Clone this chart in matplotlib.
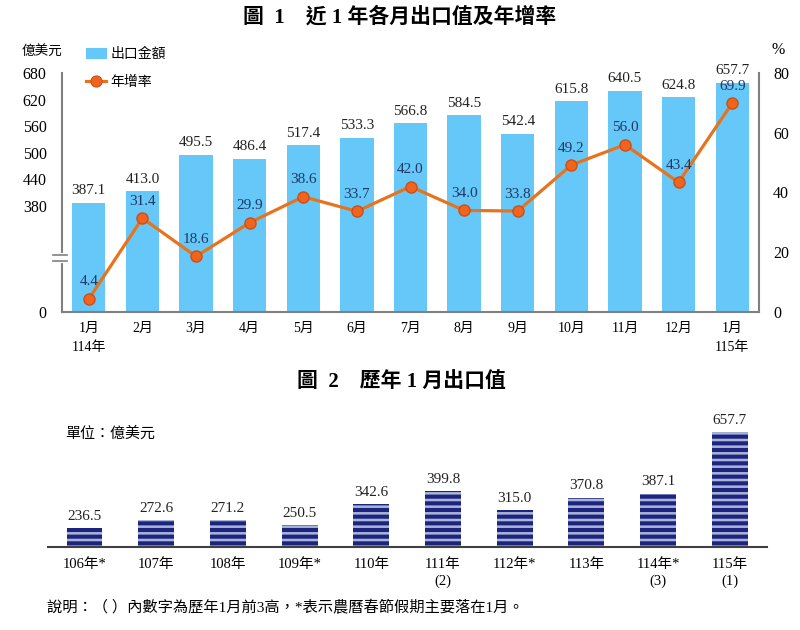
import numpy as np
import matplotlib.pyplot as plt
from matplotlib.lines import Line2D
from matplotlib.patches import Patch

# 以 dpi=80 輸出(條紋密度較接近原圖), 所有以點為單位的尺寸乘上 k
k = 100 / 80

plt.rcParams['font.family'] = ['Liberation Serif', 'Noto Sans CJK TC']
plt.rcParams['hatch.linewidth'] = 3.7

# 圖1 資料
months = ['1月\n114年', '2月', '3月', '4月', '5月', '6月', '7月', '8月', '9月',
          '10月', '11月', '12月', '1月\n115年']
export_val = [387.1, 413.0, 495.5, 486.4, 517.4, 533.3, 566.8, 584.5, 542.4,
              615.8, 640.5, 624.8, 657.7]
growth = [4.4, 31.4, 18.6, 29.9, 38.6, 33.7, 42.0, 34.0, 33.8, 49.2, 56.0, 43.4, 69.9]
left_ticks = [380, 440, 500, 560, 620, 680]
right_ticks = [0, 20, 40, 60, 80]

# 圖2 資料
years = ['106年*', '107年', '108年', '109年*', '110年', '111年\n(2)', '112年*',
         '113年', '114年*\n(3)', '115年\n(1)']
jan_val = [236.5, 272.6, 271.2, 250.5, 342.6, 399.8, 315.0, 370.8, 387.1, 657.7]

bar_blue = '#66C8F8'
line_org = '#E8731E'
navy = '#1C2480'
axis_gray = '#808080'

fig = plt.figure(figsize=(10, 7.875), dpi=80)

# ---------------- 圖 1 ----------------
ax1 = fig.add_axes([62/800, 1-312/630, 697/800, 239/630])
y0 = 141  # 斷軸後的底部
x = np.arange(len(months))
ax1.bar(x, np.array(export_val) - y0, bottom=y0, width=0.62, color=bar_blue, zorder=2)
ax1.set_xlim(-0.5, len(months) - 0.5)
ax1.set_ylim(y0, 680)
ax1.set_yticks([y0] + left_ticks)
ax1.set_yticklabels(['0'] + [str(t) for t in left_ticks])
ax1.set_xticks(x)
ax1.set_xticklabels(months, fontsize=10*k, linespacing=1.6)
ax1.tick_params(axis='y', length=0, labelsize=11.5*k, pad=11*k)
ax1.tick_params(axis='x', length=0, pad=7*k)
for s in ['top', 'right']:
    ax1.spines[s].set_visible(False)
for s in ['left', 'bottom']:
    ax1.spines[s].set_color(axis_gray)
    ax1.spines[s].set_linewidth(1.5*k)

for xi, v in zip(x, export_val):
    ax1.annotate(f'{v:.1f}', (xi, v), xytext=(0, 4*k), textcoords='offset points',
                 ha='center', va='bottom', fontsize=11*k, color='#222222')

ax2 = ax1.twinx()
ax2.plot(x, growth, color=line_org, lw=2.3*k, marker='o', ms=8*k,
         mfc='#F0641E', mec='#C8501A', mew=1*k, zorder=3)
ax2.set_ylim(0, 80)
ax2.set_yticks(right_ticks)
ax2.tick_params(axis='y', length=0, labelsize=11.5*k, pad=10*k)
for s in ['top', 'left', 'bottom']:
    ax2.spines[s].set_visible(False)
ax2.spines['right'].set_color(axis_gray)
ax2.spines['right'].set_linewidth(1.5*k)
for xi, g in zip(x, growth):
    ax2.annotate(f'{g:.1f}', (xi, g), xytext=(0, 7.5*k), textcoords='offset points',
                 ha='center', va='bottom', fontsize=11*k, color='#1F3864')

# 斷軸符號
brk = 0.226
ax1.plot([0, 0], [brk - 0.013, brk + 0.013], transform=ax1.transAxes,
         color='white', lw=3*k, clip_on=False, zorder=5)
for d in (-0.0126, 0.0126):
    ax1.plot([-0.013, 0.0072], [brk + d, brk + d], transform=ax1.transAxes,
             color=axis_gray, lw=1.2*k, clip_on=False, zorder=6)

fig.text(22/800, 1-52/630, '億美元', fontsize=9.8*k, va='center')
fig.text(778/800, 1-50/630, '%', fontsize=11.5*k, va='center', ha='center')

handles = [Patch(color=bar_blue, label='出口金額'),
           Line2D([], [], color=line_org, lw=2.3*k, marker='o', ms=8*k,
                  mfc='#F0641E', mec='#C8501A', label='年增率')]
fig.legend(handles=handles, loc='upper left', bbox_to_anchor=(80/800, 1-42/630),
           frameon=False, fontsize=10*k, handlelength=1.5, handletextpad=0.3,
           labelspacing=1.05, borderaxespad=0)

fig.text(0.5, 1-17/630, '圖  1    近 1 年各月出口值及年增率', fontsize=15*k,
         fontweight='bold', ha='center', va='center')
fig.text(0.502, 1-383/630, '圖  2    歷年 1 月出口值', fontsize=15*k,
         fontweight='bold', ha='center', va='center')

# ---------------- 圖 2 ----------------
ax3 = fig.add_axes([48/800, 1-546.7/630, 719/800, 126.7/630])
yb = 155.8
x2 = np.arange(len(years))
ax3.bar(x2, np.array(jan_val) - yb, bottom=yb, width=0.5, facecolor='#AAB5D6',
        edgecolor=navy, hatch='--', linewidth=0)
ax3.set_xlim(-0.51, len(years) - 0.48)
ax3.set_ylim(yb, 711.7)
ax3.set_yticks([])
ax3.set_xticks(x2)
ax3.set_xticklabels(years, fontsize=10.5*k, linespacing=1.4)
ax3.tick_params(axis='x', length=0, pad=8*k)
for s in ['top', 'right', 'left']:
    ax3.spines[s].set_visible(False)
ax3.spines['bottom'].set_color('#404040')
ax3.spines['bottom'].set_linewidth(1.5*k)
for xi, v in zip(x2, jan_val):
    ax3.annotate(f'{v:.1f}', (xi, v), xytext=(0, 4*k), textcoords='offset points',
                 ha='center', va='bottom', fontsize=11*k, color='#222222')

fig.text(65/800, 1-434/630, '單位：億美元', fontsize=10.8*k, va='center')
fig.text(47/800, 1-607/630, '說明：（ ）內數字為歷年1月前3高，*表示農曆春節假期主要落在1月。',
         fontsize=11*k, va='center')

fig.savefig('out.png', dpi=80)
